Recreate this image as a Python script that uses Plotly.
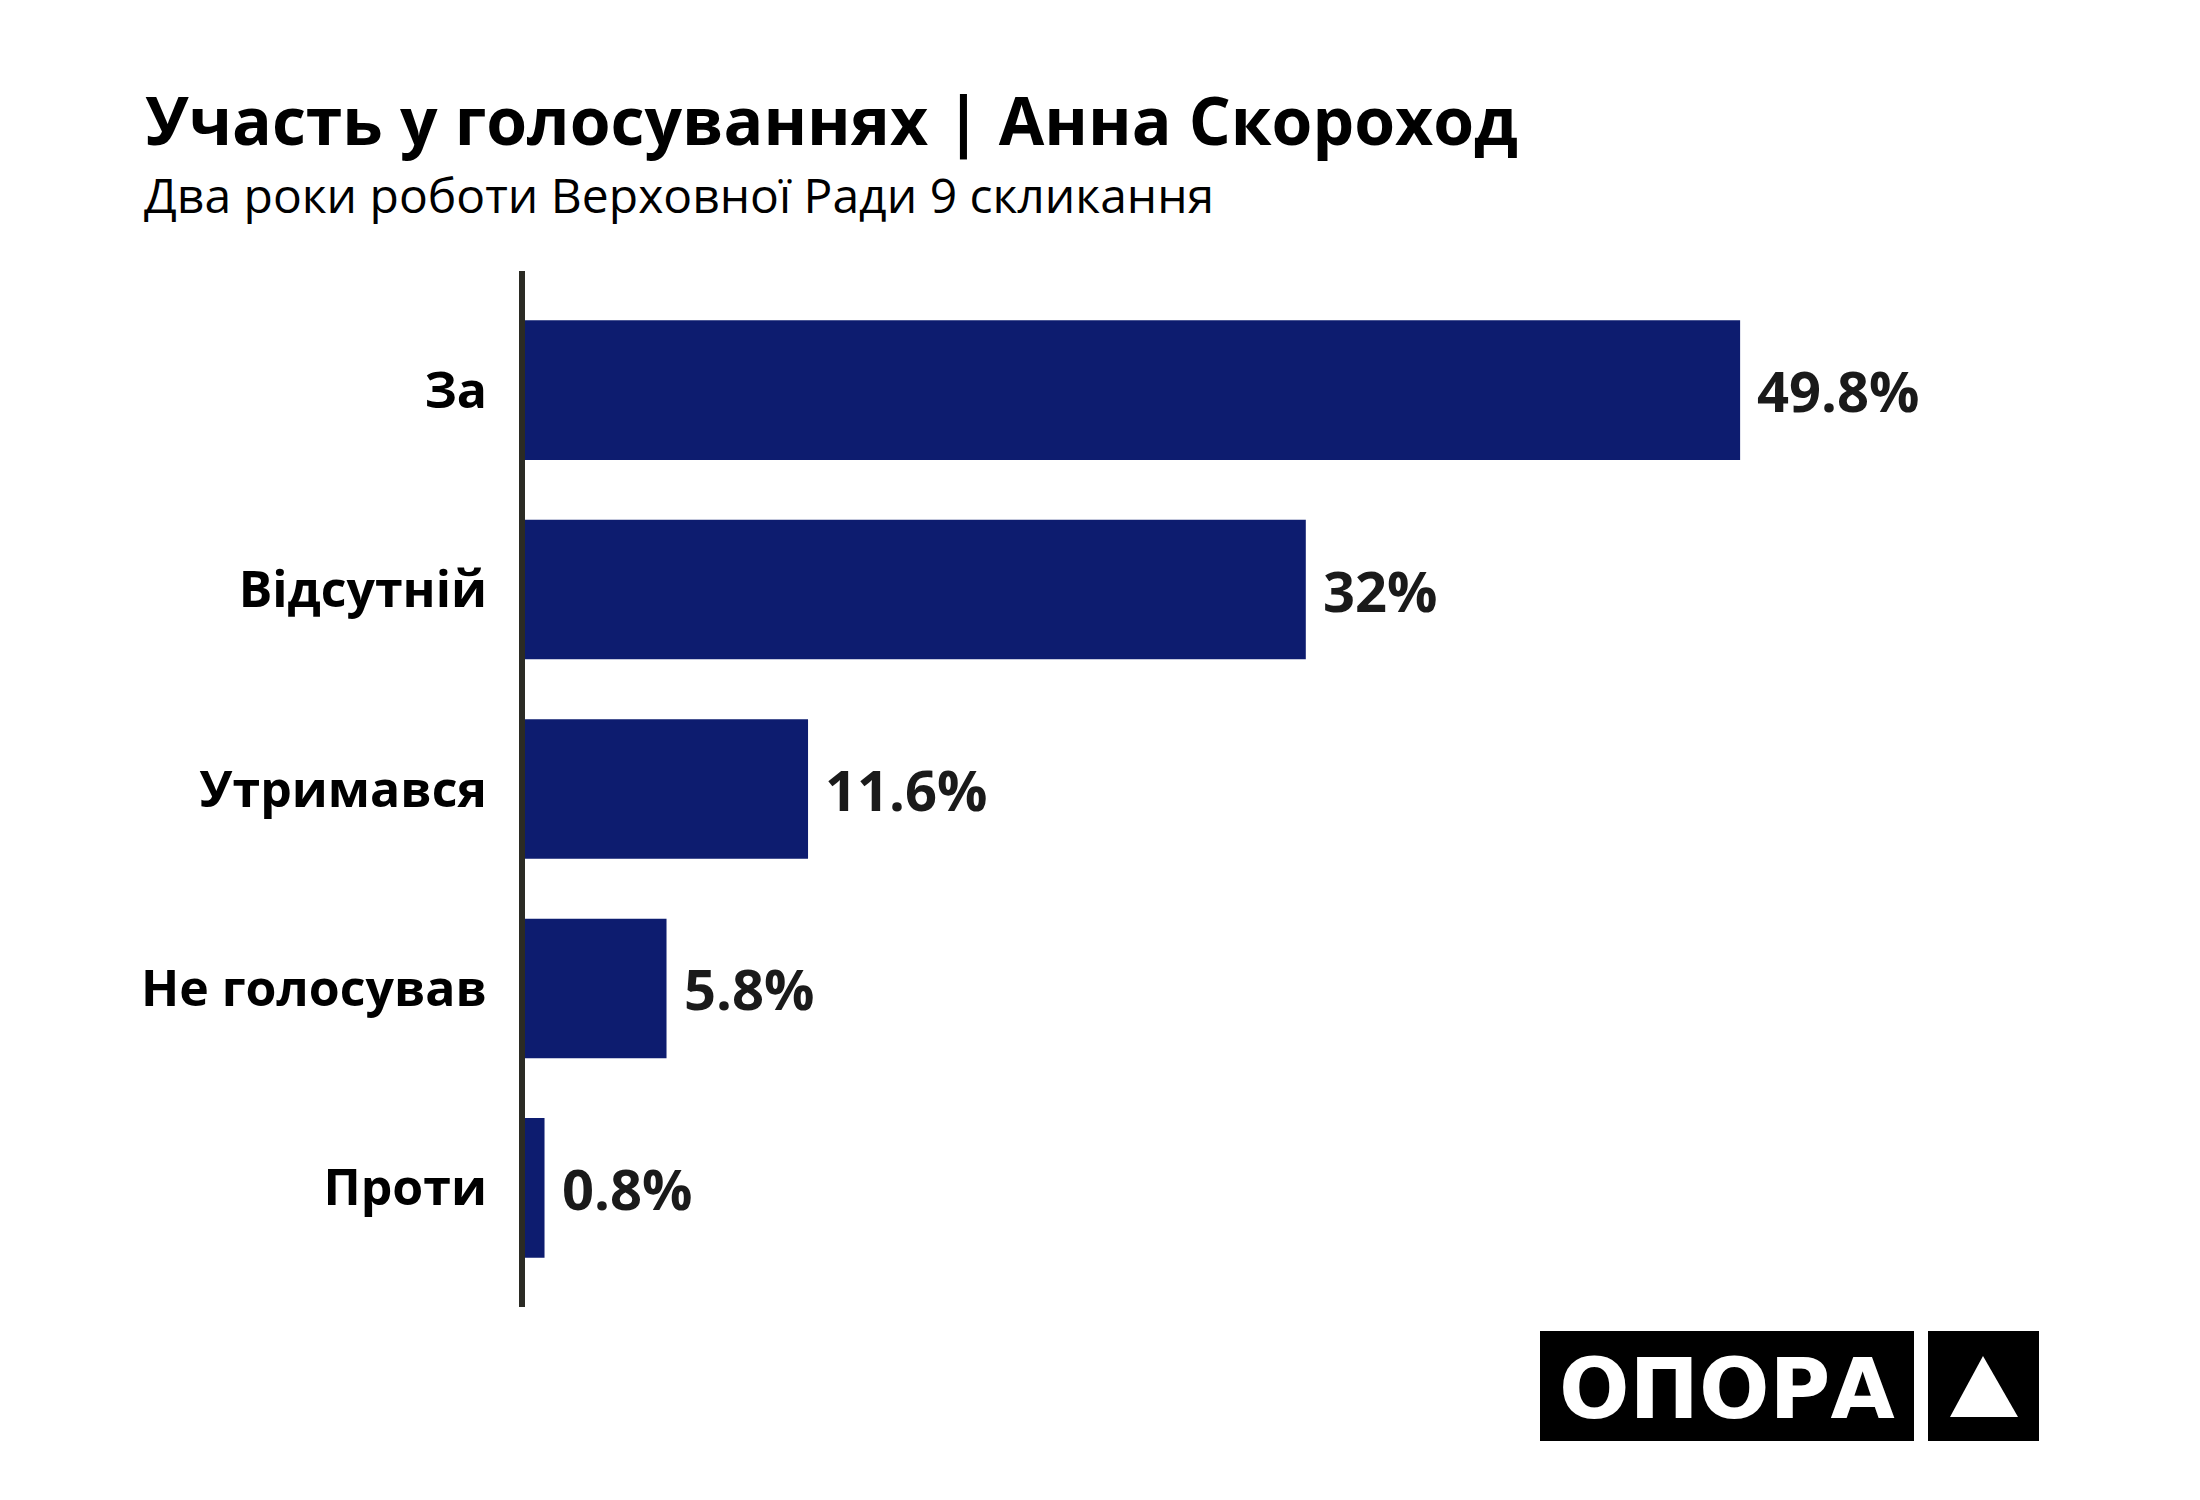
import plotly.graph_objects as go

# data
categories = ["За", "Відсутній", "Утримався", "Не голосував", "Проти"]
values = [49.8, 32, 11.6, 5.8, 0.8]
value_labels = ["49.8%", "32%", "11.6%", "5.8%", "0.8%"]

title_text = "Участь у голосуваннях | Анна Скороход"
subtitle_text = "Два роки роботи Верховної Ради 9 скликання"
logo_text = "ОПОРА"

W, H = 2200, 1500
OFF = 8  # page body margin, shift everything back
# plot area in pixels
L, R, T, B = 525 - OFF, 2100 - OFF, 271 - OFF, 1307 - OFF
PW, PH = R - L, B - T

BAR = "#0d1c6f"
FONT = "Open Sans"


def px(x):
    return (x - OFF - L) / PW


def py(y):
    return (B - (y - OFF)) / PH


fig = go.Figure()

fig.add_trace(go.Bar(
    x=values,
    y=categories,
    orientation="h",
    marker=dict(color=BAR, line=dict(width=0)),
    width=0.7,
    hoverinfo="skip",
))

annotations = []
for c, v, lab in zip(categories, values, value_labels):
    annotations.append(dict(
        x=v, y=c, xref="x", yref="y", text=lab, showarrow=False,
        xanchor="left", yanchor="middle", xshift=15,
        font=dict(family=FONT, size=56, color="#1a1a1a", weight="bold"),
    ))

# title + subtitle
annotations.append(dict(
    x=px(143), y=py(119), xref="paper", yref="paper", text=title_text,
    showarrow=False, xanchor="left", yanchor="middle",
    font=dict(family=FONT, size=66, color="#000000", weight="bold"),
))
annotations.append(dict(
    x=px(142), y=py(194), xref="paper", yref="paper", text=subtitle_text,
    showarrow=False, xanchor="left", yanchor="middle",
    font=dict(family=FONT, size=48, color="#000000"),
))

# logo
annotations.append(dict(
    x=px(1727), y=py(1389), xref="paper", yref="paper", text=logo_text,
    showarrow=False, xanchor="center", yanchor="middle",
    font=dict(family="DejaVu Sans", size=83, color="#ffffff", weight="bold"),
))

shapes = [
    dict(type="rect", xref="paper", yref="paper",
         x0=px(1540), x1=px(1914), y0=py(1441), y1=py(1331),
         fillcolor="#000000", line=dict(width=0), layer="below"),
    dict(type="rect", xref="paper", yref="paper",
         x0=px(1928), x1=px(2039), y0=py(1441), y1=py(1331),
         fillcolor="#000000", line=dict(width=0)),
    dict(type="path", xref="paper", yref="paper",
         path=f"M {px(1983)} {py(1356)} L {px(2018)} {py(1417)} L {px(1950)} {py(1417)} Z",
         fillcolor="#ffffff", line=dict(width=0)),
]

fig.update_layout(
    width=W, height=H,
    margin=dict(l=L, r=W - R, t=T, b=H - B, pad=0),
    paper_bgcolor="#ffffff",
    plot_bgcolor="#ffffff",
    showlegend=False,
    annotations=annotations,
    shapes=shapes,
    xaxis=dict(
        range=[0, PW / 24.4],
        showgrid=False, zeroline=False, showline=False,
        showticklabels=False, ticks="", fixedrange=True,
    ),
    yaxis=dict(
        type="category",
        categoryorder="array", categoryarray=categories,
        range=[4.597, -0.597],
        showgrid=False, zeroline=False,
        showline=True, linecolor="#2b2b24", linewidth=6,
        ticks="", ticklabelstandoff=22,
        tickfont=dict(family=FONT, size=50, color="#000000", weight="bold"),
        fixedrange=True,
    ),
)

fig.write_html("out.html")
